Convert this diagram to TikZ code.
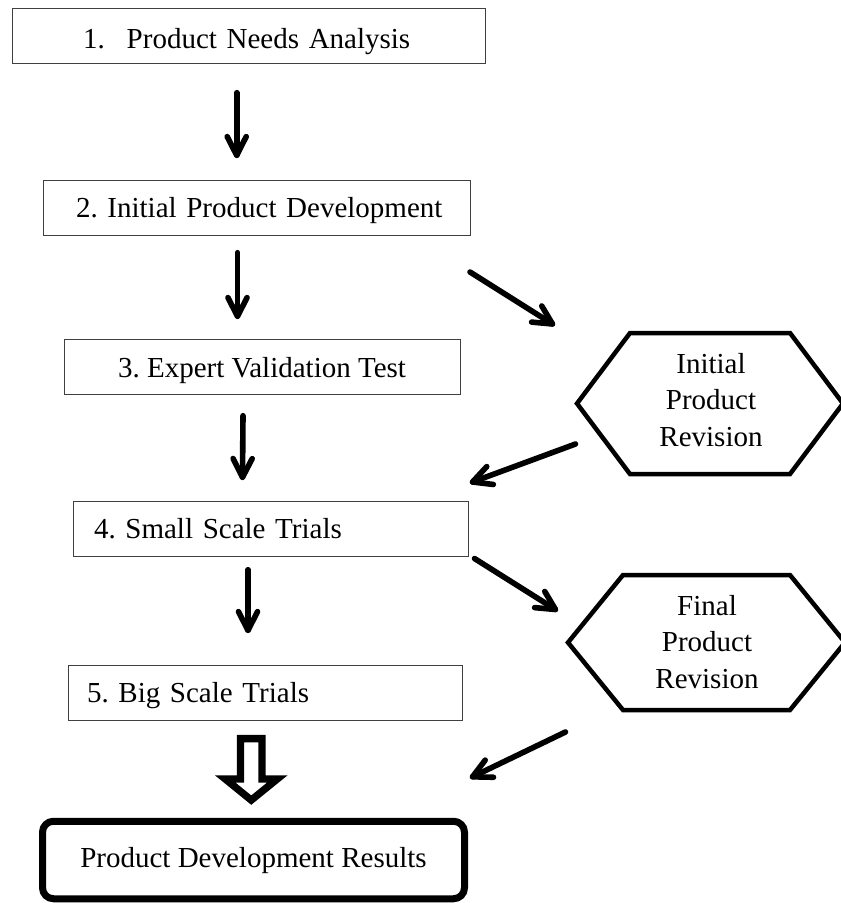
\documentclass[tikz,border=0pt]{standalone}
\usepackage{fontspec}
\setmainfont{Liberation Serif}
\usetikzlibrary{calc}
\frenchspacing
\tikzset{
  txt/.style={font=\fontsize{29}{36.5}\selectfont},
  stepbox/.style={txt, draw=black!75, line width=1pt, inner sep=0pt,
    minimum height=55pt, text height=20pt, text depth=0pt},
  hexa/.style={draw=black, line width=4.5pt, line join=miter},
  flowline/.style={draw=black, line width=5.6pt, line cap=round, line join=round},
  hollow/.style={draw=black, fill=white, line width=7.3pt, line join=miter},
  resultbox/.style={txt, draw=black, line width=7pt, rounded corners=11pt,
    inner sep=0pt, minimum width=422pt, minimum height=77.5pt,
    text height=14pt, text depth=0pt}
}
% connector with a barbed head: #1 start, #2 tip
\newcommand\flowarrow[2]{%
  \draw[flowline] (#1) -- (#2);
  \draw[flowline] ($(#2)!21pt!27:(#1)$) -- (#2) -- ($(#2)!21pt!-27:(#1)$);
}
\begin{document}
\begin{tikzpicture}[x=1pt,y=-1pt]
\useasboundingbox (0,0) rectangle (841,903);

% process boxes
\node[stepbox, minimum width=473pt, text width=331pt, align=left, text height=24pt]
  (b1) at (248.5,36) {\mbox{1.\hspace{22pt}Product Needs Analysis}};
\node[stepbox, minimum width=427pt, text width=361pt, align=left]
  (b2) at (256.5,207.5) {\mbox{2. Initial Product Development}};
\node[stepbox, minimum width=396pt, align=center]
  (b3) at (262,367) {3. Expert Validation Test};
\node[stepbox, minimum width=395pt, text width=353pt, align=left]
  (b4) at (270.5,528.5) {\mbox{4. Small Scale Trials}};
\node[stepbox, minimum width=394pt, text width=356pt, align=left]
  (b5) at (265,692.5) {\mbox{5. Big Scale Trials}};
\node[resultbox, align=center] (res) at (253.5,860) {Product Development Results};

% hexagons
\coordinate (hc1) at (710,403.5);
\draw[hexa] ($(hc1)+(-80,-70.5)$) -- ($(hc1)+(80,-70.5)$) -- ($(hc1)+(133,0)$)
  -- ($(hc1)+(80,70.5)$) -- ($(hc1)+(-80,70.5)$) -- ($(hc1)+(-133,0)$) -- cycle;
\node[txt, align=center, inner sep=0pt] (hx1) at (711,399.6) {Initial\\Product\\Revision};

\coordinate (hc2) at (706.5,642.5);
\draw[hexa] ($(hc2)+(-83.5,-67.5)$) -- ($(hc2)+(83.5,-67.5)$) -- ($(hc2)+(138.5,0)$)
  -- ($(hc2)+(83.5,67.5)$) -- ($(hc2)+(-83.5,67.5)$) -- ($(hc2)+(-138.5,0)$) -- cycle;
\node[txt, align=center, inner sep=0pt] (hx2) at (707,641.6) {Final\\Product\\Revision};

% arrow end points
\coordinate (a1s) at (236.7,92.7);  \coordinate (a1e) at (236.7,155.3);
\coordinate (a2s) at (237.5,252.7); \coordinate (a2e) at (237.5,316.3);
\coordinate (a3s) at (243,415.7);   \coordinate (a3e) at (242.5,477.3);
\coordinate (a4s) at (248,569.7);   \coordinate (a4e) at (248,630.3);
\coordinate (dAs) at (470,272);     \coordinate (dAe) at (552.5,324);
\coordinate (dBs) at (575.5,444);   \coordinate (dBe) at (472.5,482);
\coordinate (dCs) at (474.5,558.5); \coordinate (dCe) at (555.5,609.5);
\coordinate (dDs) at (565.5,732);   \coordinate (dDe) at (472.5,776.8);

\flowarrow{a1s}{a1e}
\flowarrow{a2s}{a2e}
\flowarrow{a3s}{a3e}
\flowarrow{a4s}{a4e}
\flowarrow{dAs}{dAe}
\flowarrow{dBs}{dBe}
\flowarrow{dCs}{dCe}
\flowarrow{dDs}{dDe}

% hollow arrow from b5 to results
\coordinate (ht) at (251.25,738.6);
\draw[hollow] ($(ht)+(-10.75,0)$) -- ($(ht)+(10.75,0)$) -- ($(ht)+(10.75,40.4)$)
  -- ($(ht)+(26,40.4)$) -- ($(ht)+(0,61.5)$) -- ($(ht)+(-26,40.4)$)
  -- ($(ht)+(-10.75,40.4)$) -- cycle;
\end{tikzpicture}
\end{document}
